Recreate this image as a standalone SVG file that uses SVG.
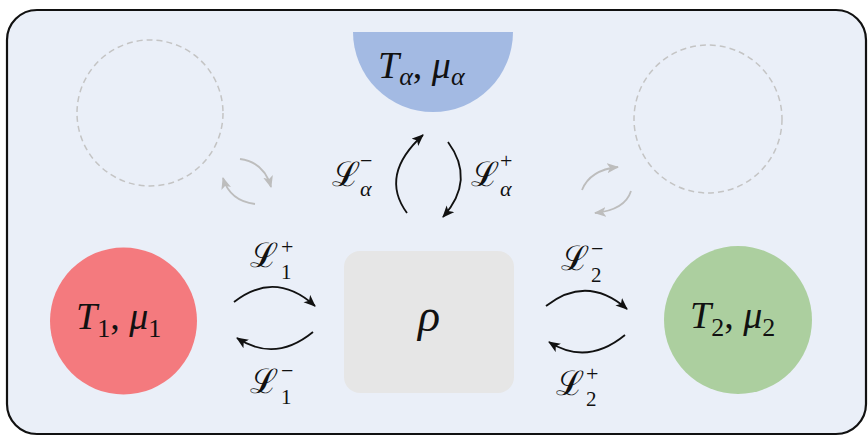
<svg xmlns="http://www.w3.org/2000/svg" width="868" height="436" viewBox="0 0 868 436">
<defs>
<style>
.m{font-family:'Liberation Serif','Times New Roman','DejaVu Serif',serif;font-style:italic;fill:#111}
.r{font-family:'Liberation Serif','Times New Roman','DejaVu Serif',serif;font-style:normal;fill:#111}
.cal{font-family:'DejaVu Serif',serif;font-style:normal;fill:#111}
.arr{fill:none;stroke:#111;stroke-width:1.8;marker-end:url(#ah)}
.garr{fill:none;stroke:#bdbdbd;stroke-width:1.8;marker-end:url(#gh)}
.ghost{fill:none;stroke:#c4c4c4;stroke-width:1.5;stroke-dasharray:6 4}
</style>
<marker id="ah" markerUnits="userSpaceOnUse" markerWidth="14" markerHeight="12" refX="11" refY="5" orient="auto" viewBox="0 0 14 12">
<path d="M0,0 L12,5 L0,10 L3,5 z" fill="#111"/>
</marker>
<marker id="gh" markerUnits="userSpaceOnUse" markerWidth="14" markerHeight="12" refX="11" refY="5" orient="auto" viewBox="0 0 14 12">
<path d="M0,0 L12,5 L0,10 L3,5 z" fill="#bdbdbd"/>
</marker>
</defs>
<rect id="frame" x="7" y="10" width="859" height="424" rx="30" ry="30" fill="#eaeff8" stroke="#111" stroke-width="2.2"/>
<g id="ghost-left"><circle class="ghost" cx="150" cy="113" r="73"/></g>
<g id="ghost-right"><circle class="ghost" cx="708" cy="119" r="74"/></g>
<g id="bath-alpha">
<path d="M353,32 L513,32 A80,80 0 0 1 353,32 Z" fill="#a3bae3"/>
<text x="378" y="78" class="m" font-size="38">T<tspan font-size="26" dy="7">α</tspan><tspan class="r" dy="-7">, </tspan><tspan>μ</tspan><tspan font-size="26" dy="7">α</tspan></text>
</g>
<g id="bath-1">
<circle cx="123.5" cy="321" r="73.5" fill="#f47a7e"/>
<text x="76" y="329" class="m" font-size="38">T<tspan class="r" font-size="26" dy="8">1</tspan><tspan class="r" dy="-8">, </tspan><tspan>μ</tspan><tspan class="r" font-size="26" dy="8">1</tspan></text>
</g>
<g id="system">
<rect x="344" y="251" width="170" height="142" rx="16" ry="16" fill="#e6e6e6"/>
<text x="429" y="331" class="m" font-size="46" text-anchor="middle">ρ</text>
</g>
<g id="bath-2">
<circle cx="738" cy="320" r="74" fill="#accf9f"/>
<text x="690" y="328" class="m" font-size="38">T<tspan class="r" font-size="26" dy="8">2</tspan><tspan class="r" dy="-8">, </tspan><tspan>μ</tspan><tspan class="r" font-size="26" dy="8">2</tspan></text>
</g>
<g id="connectors">
<path class="arr" d="M234,302 Q275,270 315,306"/>
<path class="arr" d="M313,332 Q275,363 237,338"/>
<path class="arr" d="M546,306 Q587,274 627,309"/>
<path class="arr" d="M625,335 Q587,366 549,342"/>
<path class="arr" d="M407,213 Q379,175 423,135"/>
<path class="arr" d="M448,142 Q476,180 443,217"/>
<path class="garr" d="M240,159 Q264,162 271,187"/>
<path class="garr" d="M255,204 Q230,201 223,178"/>
<path class="garr" d="M582,190 Q590,170 618,167"/>
<path class="garr" d="M631,191 Q625,210 595,213"/>
</g>
<g id="labels">
<text x="332" y="186" class="cal" font-size="34">ℒ<tspan class="r" font-size="22" x="360" y="168">−</tspan><tspan class="m" font-size="22" x="360" y="196">α</tspan></text>
<text x="471" y="186" class="cal" font-size="34">ℒ<tspan class="r" font-size="22" x="500" y="168">+</tspan><tspan class="m" font-size="22" x="500" y="196">α</tspan></text>
<text x="250" y="267" class="cal" font-size="34">ℒ<tspan class="r" font-size="22" x="281" y="254">+</tspan><tspan class="r" font-size="21" x="281" y="279">1</tspan></text>
<text x="250" y="393" class="cal" font-size="34">ℒ<tspan class="r" font-size="22" x="281" y="378">−</tspan><tspan class="r" font-size="21" x="281" y="404">1</tspan></text>
<text x="561" y="270" class="cal" font-size="34">ℒ<tspan class="r" font-size="22" x="591" y="256">−</tspan><tspan class="r" font-size="21" x="591" y="282">2</tspan></text>
<text x="556" y="395" class="cal" font-size="34">ℒ<tspan class="r" font-size="22" x="586" y="381">+</tspan><tspan class="r" font-size="21" x="586" y="406">2</tspan></text>
</g>
</svg>
